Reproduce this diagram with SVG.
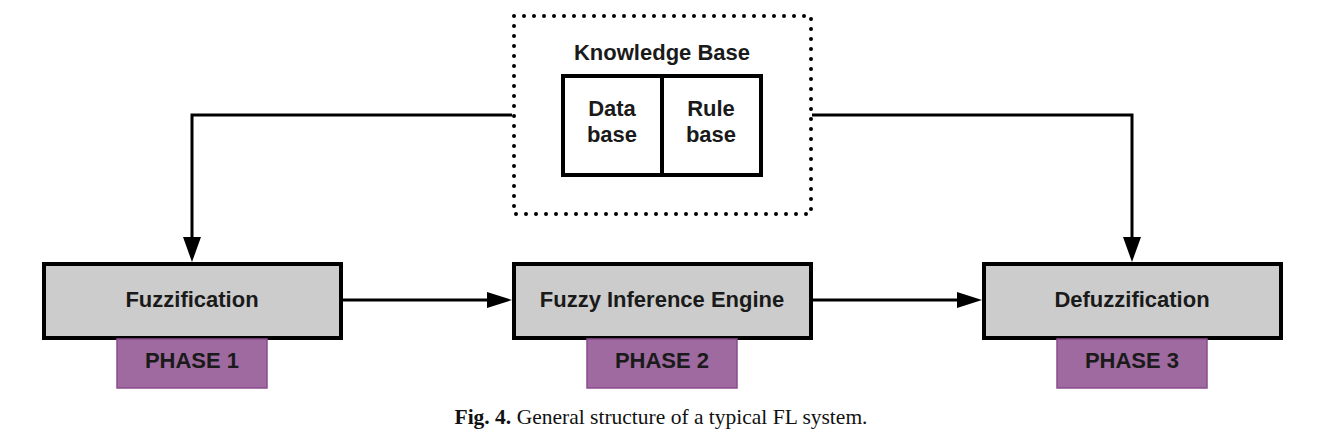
<svg xmlns="http://www.w3.org/2000/svg" width="1322" height="436" viewBox="0 0 1322 436">
<defs>
<style>
.t{font-family:"Liberation Sans",Arial,sans-serif;font-weight:bold;font-size:22px;fill:#1a1a1a;text-anchor:middle}
.box{fill:#cccccc;stroke:#000;stroke-width:4}
.ph{fill:#9e6aa0;stroke:#8a4c8d;stroke-width:1.5}
.ln{fill:none;stroke:#000;stroke-width:3}
.ah{fill:#000}
.cap{font-family:"Liberation Serif","Times New Roman",serif;font-size:21.5px;fill:#111;text-anchor:middle}
</style>
</defs>
<rect width="1322" height="436" fill="#fff"/>
<g id="connectors">
<path class="ln" d="M512,115 H192 V240"/>
<path class="ah" d="M183,237 L201,237 L192,262 Z"/>
<path class="ln" d="M812,115 H1132 V240"/>
<path class="ah" d="M1123,237 L1141,237 L1132,262 Z"/>
<path class="ln" d="M342,300 H490"/>
<path class="ah" d="M487,292 L512,300 L487,308 Z"/>
<path class="ln" d="M812,300 H960"/>
<path class="ah" d="M957,292 L982,300 L957,308 Z"/>
</g>
<g id="knowledge-base">
<rect x="514" y="16" width="297" height="198" fill="none" stroke="#000" stroke-width="4" stroke-linecap="round" stroke-dasharray="0 10"/>
<text class="t" x="662" y="60">Knowledge Base</text>
</g>
<g id="data-base">
<rect x="563" y="76" width="99" height="99" fill="#fff" stroke="#000" stroke-width="4"/>
<text class="t" x="612" y="116">Data</text>
<text class="t" x="612" y="142">base</text>
</g>
<g id="rule-base">
<rect x="662" y="76" width="99" height="99" fill="#fff" stroke="#000" stroke-width="4"/>
<text class="t" x="711" y="116">Rule</text>
<text class="t" x="711" y="142">base</text>
</g>
<g id="fuzzification">
<rect class="box" x="44" y="264" width="297" height="74"/>
<text class="t" x="192" y="307">Fuzzification</text>
</g>
<g id="phase1">
<rect class="ph" x="117" y="339" width="150" height="49"/>
<text class="t" x="192" y="368">PHASE 1</text>
</g>
<g id="inference">
<rect class="box" x="514" y="264" width="297" height="74"/>
<text class="t" x="662" y="307">Fuzzy Inference Engine</text>
</g>
<g id="phase2">
<rect class="ph" x="587" y="339" width="150" height="49"/>
<text class="t" x="662" y="368">PHASE 2</text>
</g>
<g id="defuzzification">
<rect class="box" x="984" y="264" width="297" height="74"/>
<text class="t" x="1132" y="307">Defuzzification</text>
</g>
<g id="phase3">
<rect class="ph" x="1057" y="339" width="150" height="49"/>
<text class="t" x="1132" y="368">PHASE 3</text>
</g>
<text class="cap" x="661" y="424"><tspan font-weight="bold">Fig. 4.</tspan> General structure of a typical FL system.</text>
</svg>
